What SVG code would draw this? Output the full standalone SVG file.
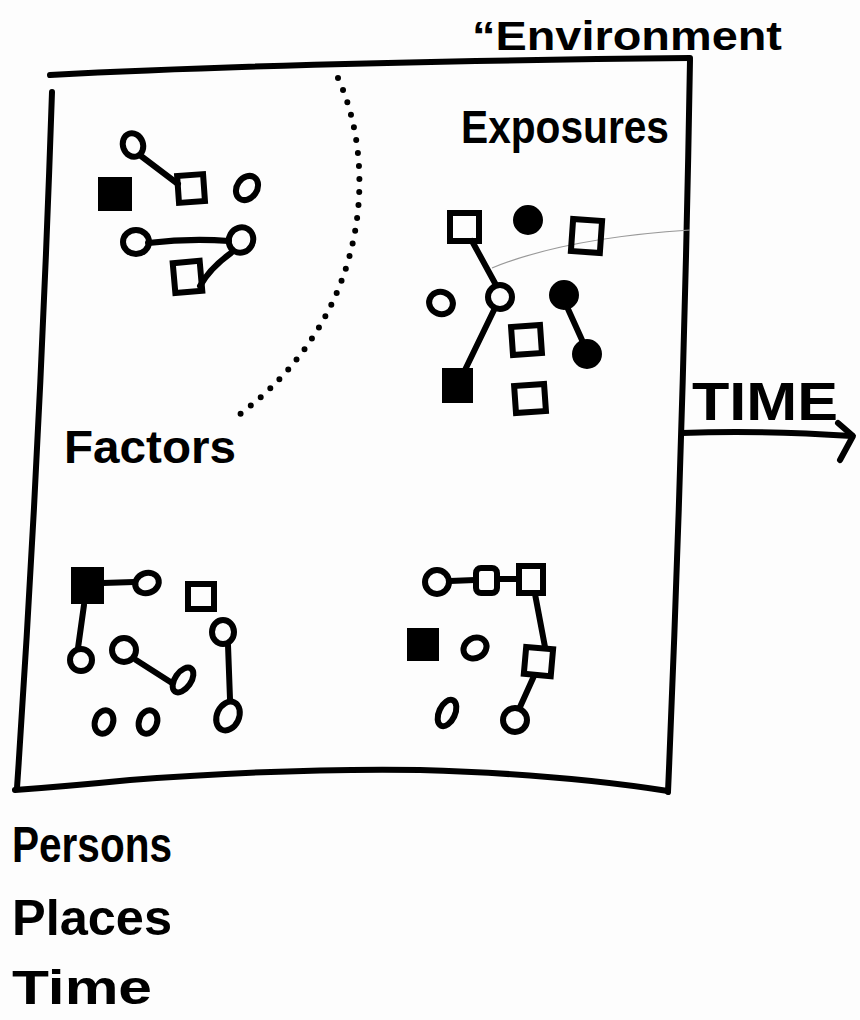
<svg xmlns="http://www.w3.org/2000/svg" width="860" height="1020" viewBox="0 0 860 1020">
<style>
.ink{fill:none;stroke:#000;stroke-width:6;stroke-linecap:round;stroke-linejoin:round}
.o{fill:none;stroke:#000;stroke-width:6}
.f{fill:#000;stroke:#000;stroke-width:4}
.t{font-family:"Liberation Sans",Arial,sans-serif;font-weight:bold;fill:#000}
.faint{fill:none;stroke:#999;stroke-width:1.2}
</style>
<rect width="860" height="1020" fill="#fdfdfd"/>
<g id="frame">
<path class="ink" d="M50,75 Q300,62 690,58"/>
<path class="ink" d="M52,92 Q40,450 17,788"/>
<path class="ink" d="M690,60 Q684,420 668,792"/>
<path class="ink" d="M15,790 Q70,786 130,780 Q290,768 420,770 Q560,774 668,791"/>
</g>
<g id="boundary">
<path d="M338,78 C378,165 372,320 232,420" fill="none" stroke="#000" stroke-width="6" stroke-linecap="round" stroke-dasharray="0 13"/>
</g>
<g id="faint-line"><path class="faint" d="M492,268 Q565,238 690,230"/></g>
<g id="label-environment"><text class="t" x="472" y="50" font-size="40" textLength="310" lengthAdjust="spacingAndGlyphs">“Environment</text></g>
<g id="label-exposures"><text class="t" x="461" y="143" font-size="46" textLength="208" lengthAdjust="spacingAndGlyphs">Exposures</text></g>
<g id="label-factors"><text class="t" x="64" y="463" font-size="46" textLength="172" lengthAdjust="spacingAndGlyphs">Factors</text></g>
<g id="label-time-axis">
<text class="t" x="692" y="420" font-size="54" textLength="146" lengthAdjust="spacingAndGlyphs">TIME</text>
<path class="ink" d="M682,433 Q760,430 852,436" stroke-width="7"/>
<path class="ink" d="M838,423 L853,436 L840,460" stroke-width="7"/>
</g>
<g id="legend">
<text class="t" x="12" y="862" font-size="50" textLength="160" lengthAdjust="spacingAndGlyphs">Persons</text>
<text class="t" x="12" y="935" font-size="50" textLength="160" lengthAdjust="spacingAndGlyphs">Places</text>
<text class="t" x="12" y="1004" font-size="48" textLength="140" lengthAdjust="spacingAndGlyphs">Time</text>
</g>
<g id="connectors">
<path class="ink" d="M141,156 L178,184"/>
<path class="ink" d="M148,243 Q190,238 229,241"/>
<path class="ink" d="M231,253 Q210,268 200,286"/>
<path class="ink" d="M472,241 L496,285"/>
<path class="ink" d="M494,310 L464,372"/>
<path class="ink" d="M568,309 L582,340"/>
<path class="ink" d="M103,583 L134,582"/>
<path class="ink" d="M84,605 L78,648"/>
<path class="ink" d="M136,660 L172,683"/>
<path class="ink" d="M228,645 L230,699"/>
<path class="ink" d="M450,581 L475,580"/>
<path class="ink" d="M497,579 L518,579"/>
<path class="ink" d="M535,594 L545,647"/>
<path class="ink" d="M534,676 L520,707"/>
</g>
<g id="cluster-top-left">
<ellipse class="o" cx="133" cy="145" rx="10" ry="12" transform="rotate(-20 133 145)"/>
<rect class="o" x="178" y="175" width="26" height="27" transform="rotate(-4 191 188)"/>
<rect class="f" x="100" y="179" width="30" height="30"/>
<ellipse class="o" cx="247" cy="188" rx="10" ry="13" transform="rotate(35 247 188)"/>
<ellipse class="o" cx="136" cy="242" rx="13" ry="12"/>
<ellipse class="o" cx="241" cy="240" rx="12" ry="13" transform="rotate(30 241 240)"/>
<rect class="o" x="174" y="262" width="27" height="30" transform="rotate(-5 187 277)"/>
</g>
<g id="cluster-top-right">
<rect class="o" x="450" y="213" width="29" height="28"/>
<circle class="f" cx="528" cy="220" r="13"/>
<rect class="o" x="572" y="220" width="29" height="32" transform="rotate(4 586 236)"/>
<circle class="o" cx="500" cy="297" r="12"/>
<ellipse class="o" cx="441" cy="303" rx="12" ry="11" transform="rotate(20 441 303)"/>
<circle class="f" cx="564" cy="295" r="13"/>
<circle class="f" cx="587" cy="354" r="13"/>
<rect class="o" x="512" y="326" width="29" height="28" transform="rotate(-4 527 340)"/>
<rect class="f" x="444" y="370" width="27" height="31"/>
<rect class="o" x="515" y="385" width="30" height="27" transform="rotate(-4 530 398)"/>
</g>
<g id="cluster-bottom-left">
<rect class="f" x="73" y="569" width="29" height="33"/>
<ellipse class="o" cx="147" cy="583" rx="12" ry="10" transform="rotate(-20 147 583)"/>
<rect class="o" x="188" y="584" width="26" height="25"/>
<circle class="o" cx="81" cy="660" r="11"/>
<circle class="o" cx="124" cy="650" r="12"/>
<ellipse class="o" cx="183" cy="680" rx="8" ry="14" transform="rotate(35 183 680)"/>
<ellipse class="o" cx="223" cy="632" rx="11" ry="12"/>
<ellipse class="o" cx="228" cy="716" rx="11" ry="15" transform="rotate(25 228 716)"/>
<ellipse class="o" cx="104" cy="722" rx="9" ry="12" transform="rotate(20 104 722)"/>
<ellipse class="o" cx="148" cy="722" rx="9" ry="12" transform="rotate(20 148 722)"/>
</g>
<g id="cluster-bottom-right">
<circle class="o" cx="437" cy="582" r="12"/>
<rect class="o" x="476" y="568" width="21" height="25" rx="5"/>
<rect class="o" x="519" y="566" width="24" height="27"/>
<rect class="o" x="525" y="648" width="27" height="27" transform="rotate(5 538 661)"/>
<rect class="f" x="409" y="630" width="28" height="29"/>
<ellipse class="o" cx="475" cy="648" rx="12" ry="10" transform="rotate(-30 475 648)"/>
<ellipse class="o" cx="447" cy="713" rx="8" ry="14" transform="rotate(25 447 713)"/>
<circle class="o" cx="515" cy="720" r="12"/>
</g>
</svg>
